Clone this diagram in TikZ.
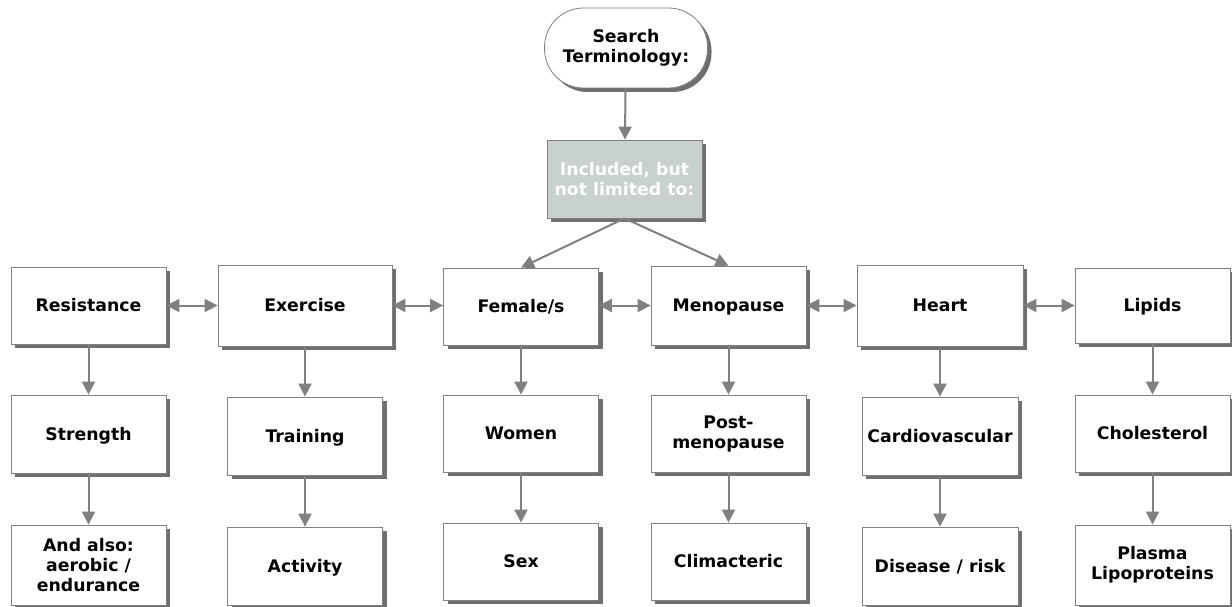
\documentclass[tikz,border=0pt]{standalone}
\usepackage{fontspec}
\setmainfont{DejaVu Sans}
\usetikzlibrary{shadows,arrows.meta}
\definecolor{inclfill}{RGB}{200,208,208}
\definecolor{arrgray}{RGB}{128,128,128}
\begin{document}
\begin{tikzpicture}[x=1pt,y=-1pt,
  box/.style={draw=black!50, line width=0.8pt, fill=white, align=center,
    font=\bfseries\fontsize{17.3}{20}\selectfont, inner sep=0pt,
    drop shadow={shadow xshift=4pt,shadow yshift=-4pt,fill=black!70,opacity=0.8}},
  one/.style={text height=12.6pt, text depth=0pt},
  wbox/.style={box, minimum width=155pt, minimum height=77pt},
  bbox/.style={box, minimum width=166pt, minimum height=81pt},
  mbox/.style={box, minimum width=155pt, minimum height=78pt},
  arr/.style={draw=arrgray, line width=2pt, -{Triangle[length=13pt,width=13pt]}},
  darr/.style={draw=arrgray, line width=2pt, {Triangle[length=13pt,width=13pt]}-{Triangle[length=13pt,width=13pt]}}]
\useasboundingbox[fill=white] (0,0) rectangle (1232,607);

% top
\node[box, rounded corners=39pt, minimum width=163pt, minimum height=80pt] (search) at (626,48) {Search\\Terminology:};
\node[box, fill=inclfill, text=white, minimum width=155pt, minimum height=78pt] (incl) at (624.5,179) {Included, but\\not limited to:};

% row 1
\node[wbox, one] (res) at (88.5,305.5) {Resistance};
\node[box, one, minimum width=174pt, minimum height=81pt] (exe) at (305,305.5) {Exercise};
\node[wbox, one] (fem) at (521,306.5) {Female/s};
\node[wbox, one, minimum height=79pt] (men) at (728.5,305.5) {Menopause};
\node[bbox, one] (hea) at (940,305.5) {Heart};
\node[wbox, one, minimum height=75pt] (lip) at (1152.5,305.5) {Lipids};

% row 2
\node[mbox, one] (str) at (88.5,434) {Strength};
\node[mbox, one] (tra) at (305,436) {Training};
\node[wbox, one] (wom) at (521,433.5) {Women};
\node[wbox] (pos) at (728.5,433.5) {Post-\\menopause};
\node[box, one, minimum width=156pt, minimum height=78pt] (car) at (940,436) {Cardiovascular};
\node[wbox, one] (cho) at (1152.5,433.5) {Cholesterol};

% row 3
\node[box, minimum width=155pt, minimum height=80pt] (and) at (88.5,565) {And also:\\aerobic /\\endurance};
\node[mbox, one] (act) at (305,566) {Activity};
\node[wbox, one] (sex) at (521,561.5) {Sex};
\node[wbox, one] (cli) at (728.5,561.5) {Climacteric};
\node[box, one, minimum width=156pt, minimum height=78pt] (dis) at (940,566) {Disease / risk};
\node[box, minimum width=155pt, minimum height=80pt] (pla) at (1152.5,565) {Plasma\\Lipoproteins};

% connectors
\draw[arr] (search) -- (incl);
\draw[arr] (incl.south) -- (fem.north);
\draw[arr] (incl.south) -- (men.north);

\draw[darr] (res) -- (res -| exe.west);
\draw[darr] (exe) -- (exe -| fem.west);
\draw[darr] (fem.east |- men) -- (men);
\draw[darr] (men) -- (men -| hea.west);
\draw[darr] (hea) -- (hea -| lip.west);

\draw[arr] (res) -- (str);
\draw[arr] (str) -- (and);
\draw[arr] (exe) -- (tra);
\draw[arr] (tra) -- (act);
\draw[arr] (fem) -- (wom);
\draw[arr] (wom) -- (sex);
\draw[arr] (men) -- (pos);
\draw[arr] (pos) -- (cli);
\draw[arr] (hea) -- (car);
\draw[arr] (car) -- (dis);
\draw[arr] (lip) -- (cho);
\draw[arr] (cho) -- (pla);
\end{tikzpicture}
\end{document}
